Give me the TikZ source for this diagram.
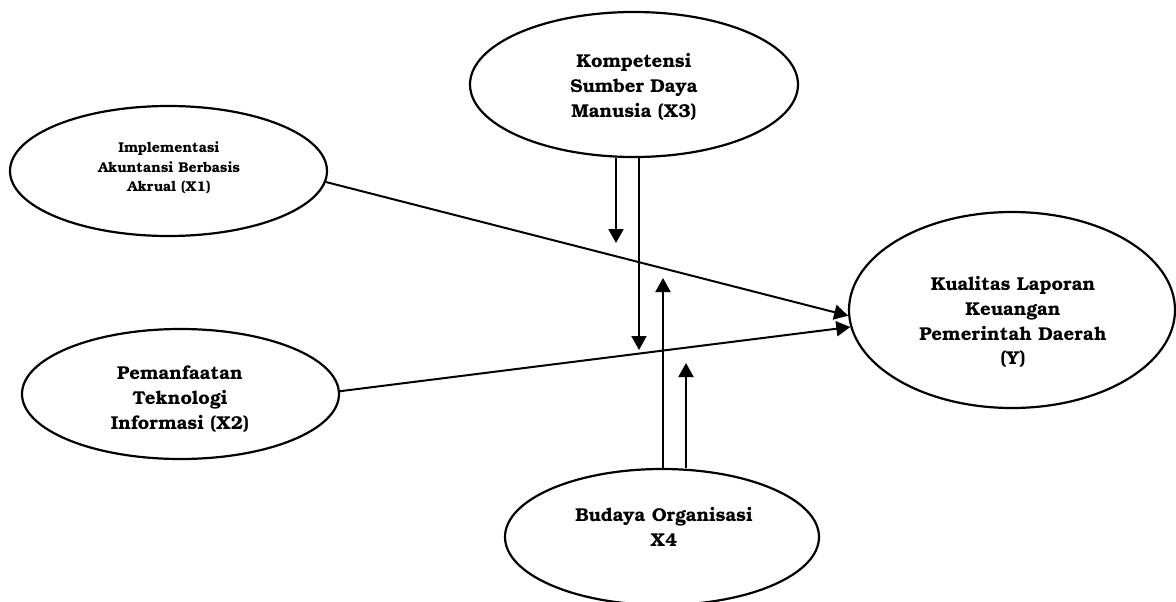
\documentclass[tikz,border=0pt]{standalone}
\usepackage{fontspec}
\setmainfont{texgyrebonum}[Extension=.otf, UprightFont=*-regular, BoldFont=*-bold]
\usetikzlibrary{shapes.geometric,arrows.meta}
\tikzset{
  oval/.style={ellipse, draw, line width=2.2pt, inner sep=0pt},
  lbl/.style={align=center, inner sep=0pt, font=\bfseries\fontsize{18.6}{24.8}\selectfont},
  smalllbl/.style={align=center, inner sep=0pt, font=\bfseries\fontsize{14.2}{19.5}\selectfont},
  arr/.style={line width=2pt, -{Triangle[length=14pt,width=15pt]}}
}
\begin{document}
\begin{tikzpicture}[x=1pt,y=-1pt]
\useasboundingbox (0,0) rectangle (1176,602);
% ellipses
\node[oval, minimum width=317pt, minimum height=130pt] (X1) at (168.5,171) {};
\node[oval, minimum width=317pt, minimum height=130pt] (X2) at (180.5,394) {};
\node[oval, minimum width=328pt, minimum height=145pt] (X3) at (634,84.5) {};
\node[oval, minimum width=326pt, minimum height=196pt] (Y) at (1012,310) {};
\node[oval, minimum width=314pt, minimum height=136pt] (X4) at (662,537) {};
% texts
\node[smalllbl] (X1t) at (169,168) {Implementasi\\Akuntansi Berbasis\\Akrual (X1)};
\node[lbl] (X2t) at (180,399) {Pemanfaatan\\Teknologi\\Informasi (X2)};
\node[lbl] (X3t) at (634,87) {Kompetensi\\Sumber Daya\\Manusia (X3)};
\node[lbl] (Yt) at (1013,322) {Kualitas Laporan\\Keuangan\\Pemerintah Daerah\\(Y)};
\node[lbl] (X4t) at (664,527) {Budaya Organisasi\\X4};
% free ends of moderating arrows
\coordinate (tA) at (616,243);
\coordinate (tB) at (639,350);
\coordinate (tC) at (663,278);
\coordinate (tD) at (686,363);
% main arrows
\draw[arr] (X1.-4.7) -- (Y.182.5);
\draw[arr] (X2.1.4) -- (Y.186.8);
% moderating arrows
\draw[arr] (X3.south -| tA) -- (tA);
\draw[arr] (X3.south -| tB) -- (tB);
\draw[arr] (X4.north -| tC) -- (tC);
\draw[arr] (X4.north -| tD) -- (tD);
\end{tikzpicture}
\end{document}
